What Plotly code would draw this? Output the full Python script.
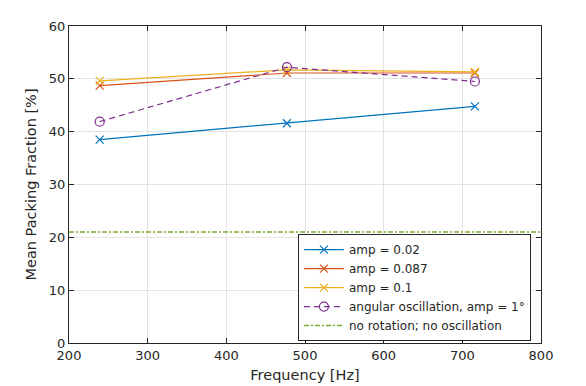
import plotly.graph_objects as go

freq = [239, 477, 716]
amp_002 = [38.5, 41.6, 44.8]
amp_0087 = [48.7, 51.1, 51.1]
amp_01 = [49.6, 51.7, 51.3]
angular = [41.9, 52.2, 49.5]
baseline_x = [200, 800]
baseline_y = [21.0, 21.0]

names = ["amp = 0.02", "amp = 0.087", "amp = 0.1",
         "angular oscillation, amp = 1°", "no rotation; no oscillation"]
colors = ["#0072BD", "#D95319", "#EDB120", "#7E2F8E", "#77AC30"]

fig = go.Figure()
for ys, name, col in zip([amp_002, amp_0087, amp_01], names[:3], colors[:3]):
    fig.add_trace(go.Scatter(
        x=freq, y=ys, name=name, mode="lines+markers",
        line=dict(color=col, width=1.2),
        marker=dict(symbol="x-thin-open", size=8, line=dict(color=col, width=1.2))))
fig.add_trace(go.Scatter(
    x=freq, y=angular, name=names[3], mode="lines+markers",
    line=dict(color=colors[3], width=1.2, dash="6px,4px"),
    marker=dict(symbol="circle-open", size=9, color=colors[3], line=dict(color=colors[3], width=1.2))))
fig.add_trace(go.Scatter(
    x=baseline_x, y=baseline_y, name=names[4], mode="lines",
    line=dict(color=colors[4], width=1.5, dash="5px,2px,2px,2px")))

axis_common = dict(
    showline=True, linecolor="#262626", linewidth=1, mirror="ticks",
    ticks="inside", ticklen=5, tickcolor="#262626",
    showgrid=True, gridcolor="#e3e3e3", gridwidth=1, zeroline=False,
    automargin=False,
    tickfont=dict(family="DejaVu Sans", size=13, color="#262626"),
)
fig.update_xaxes(range=[200, 800], dtick=100, tick0=200,
                 title=dict(text="Frequency [Hz]", font=dict(family="DejaVu Sans", size=14.5, color="#262626"), standoff=8),
                 **axis_common)
fig.update_yaxes(range=[0, 60], dtick=10, tick0=0,
                 title=dict(text="Mean Packing Fraction [%]", font=dict(family="DejaVu Sans", size=14.5, color="#262626"), standoff=8),
                 **axis_common)

fig.update_layout(
    width=586, height=386,
    margin=dict(l=60.5, r=52.5, t=18, b=50.5, autoexpand=False),
    paper_bgcolor="white", plot_bgcolor="white",
    font=dict(family="DejaVu Sans", color="#262626"),
    legend=dict(x=0.485, y=0.006, xanchor="left", yanchor="bottom",
                bgcolor="white", bordercolor="#262626", borderwidth=1,
                font=dict(family="DejaVu Sans", size=12, color="#262626"),
                tracegroupgap=0, itemwidth=40),
    showlegend=True,
)
fig.write_html("out.html")
